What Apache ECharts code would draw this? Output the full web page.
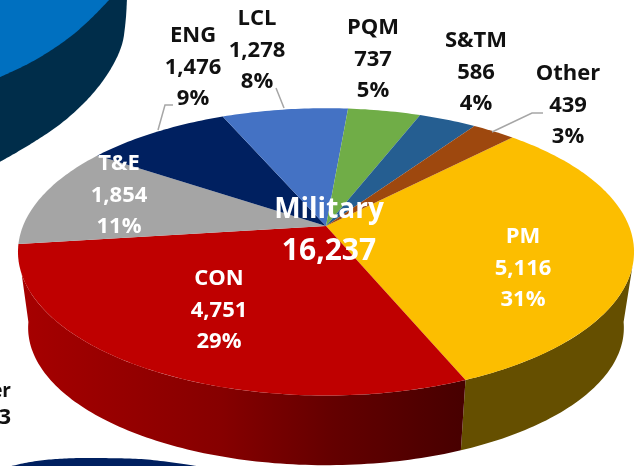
<!DOCTYPE html>
<html lang="en">
<head>
    <meta charset="UTF-8">
    <title>Military</title>
    <script src="https://cdn.jsdelivr.net/npm/echarts@6/dist/echarts.min.js"></script>
    <style>
        html, body { margin: 0; padding: 0; background: #fff; }
    </style>
</head>
<body>
<div id="main" style="width: 640px;height: 466px;"></div>
<script type="text/javascript">
    // data, clockwise from the back right
    var names = ['PM', 'CON', 'T&E', 'ENG', 'LCL', 'PQM', 'S&TM', 'Other'];
    var values = [5116, 4751, 1854, 1476, 1278, 737, 586, 439];
    var percents = ['31%', '29%', '11%', '9%', '8%', '5%', '4%', '3%'];
    var totalName = 'Military';
    var totalValue = 16237;

    var topColors = ['#fcbe00', '#bf0000', '#a5a5a5', '#002060', '#4472c4', '#70ad47', '#255e91', '#9e480e'];
    var labelColors = ['#fff', '#fff', '#fff', '#111', '#111', '#111', '#111', '#111'];
    // centre x and first line centre y of each label
    var labelPos = [[523, 237], [219, 279], [119, 164], [193, 36], [257, 19], [373, 28], [476, 41], [568, 74]];
    var leaders = [
        [[158, 130], [165, 105], [173, 105]],
        [[284, 108], [276, 88]],
        [[492, 132], [532, 113], [543, 113]]
    ];
    var labelFont = 'bold 22px "Open Sans"';
    var cutFont = 'bold 19px "Open Sans"';

    // perspective circle: the rim is drawn with these, angle in degrees from the back, clockwise
    var startAngle = 44;
    var topRim = {cx: 326, cy: 226, a: 303, b: 139, k: 0.18};
    var bottomRim = {cx: 326, cy: 303, a: 293, b: 133, k: 0.18};

    function rimPoint(rim, deg) {
        var t = deg * Math.PI / 180;
        var u = Math.sin(t), v = Math.cos(t);
        var d = 1 + rim.k * v;
        return [rim.cx + rim.a * u / d, rim.cy - rim.b * v / d];
    }
    function rimArc(rim, from, to) {
        var pts = [];
        var n = Math.max(2, Math.ceil(Math.abs(to - from)));
        for (var i = 0; i <= n; i++) {
            pts.push(rimPoint(rim, from + (to - from) * i / n));
        }
        return pts;
    }

    // round an open curve by corner cutting, end points stay
    function soften(pts) {
        for (var r = 0; r < 4; r++) {
            var out = [pts[0]];
            for (var i = 0; i < pts.length - 1; i++) {
                var p = pts[i], q = pts[i + 1];
                out.push([p[0] * 0.75 + q[0] * 0.25, p[1] * 0.75 + q[1] * 0.25]);
                out.push([p[0] * 0.25 + q[0] * 0.75, p[1] * 0.25 + q[1] * 0.75]);
            }
            out.push(pts[pts.length - 1]);
            pts = out;
        }
        return pts;
    }

    var sum = 0;
    for (var i = 0; i < values.length; i++) sum += values[i];
    var angles = [startAngle];
    for (var j = 0; j < values.length; j++) {
        angles.push(angles[j] + values[j] / sum * 360);
    }

    function fmt(n) {
        return String(n).replace(/\B(?=(\d{3})+$)/g, ',');
    }

    var chart = echarts.init(document.getElementById('main'));

    function renderFace(params, api) {
        var i = api.value(0);
        var pts = [[topRim.cx, topRim.cy]].concat(rimArc(topRim, angles[i], angles[i + 1]));
        return {
            type: 'polygon',
            shape: {points: pts},
            style: {fill: topColors[i]}
        };
    }

    // only the two front slices show a side wall
    function renderWall(params, api) {
        var i = api.value(0);
        var pts, fill;
        if (i === 0) {
            pts = rimArc(topRim, 106, angles[1]).concat(rimArc(bottomRim, angles[1], 98));
            fill = '#654f00';
        } else if (i === 1) {
            pts = rimArc(topRim, angles[1], 251).concat(rimArc(bottomRim, 262, angles[1]));
            fill = new echarts.graphic.LinearGradient(0, 0, 1, 0, [
                {offset: 0, color: '#a60000'},
                {offset: 0.45, color: '#860000'},
                {offset: 0.7, color: '#640000'},
                {offset: 1, color: '#470000'}
            ]);
        } else {
            return null;
        }
        return {type: 'polygon', shape: {points: pts}, style: {fill: fill}};
    }

    function renderLabel(params, api) {
        var i = api.value(0);
        var lines = [names[i], fmt(values[i]), percents[i]];
        var kids = [];
        for (var l = 0; l < lines.length; l++) {
            kids.push({
                type: 'text',
                style: {
                    x: labelPos[i][0],
                    y: labelPos[i][1] + l * 31.5,
                    text: lines[l],
                    fill: labelColors[i],
                    font: labelFont,
                    align: 'center',
                    verticalAlign: 'middle'
                }
            });
        }
        return {type: 'group', children: kids};
    }

    var seriesData = [];
    for (var s = 0; s < values.length; s++) seriesData.push([s, values[s]]);

    var leaderEls = [];
    for (var e = 0; e < leaders.length; e++) {
        leaderEls.push({
            type: 'polyline',
            z: 5,
            shape: {points: leaders[e]},
            style: {stroke: '#a6a6a6', lineWidth: 1.5, fill: null}
        });
    }

    // edges of the neighbouring pies, cut off by the crop
    var darkEdge = soften([[127, -2], [126, 20], [122, 50], [100, 87], [67, 120], [33, 143], [-2, 163]]);
    var blueEdge = soften([[111, -2], [90, 20], [67, 40], [33, 62], [-2, 78]]);
    var navyEdge = soften([[3, 468], [33, 461], [67, 458], [107, 458], [150, 459], [210, 468]]);

    chart.setOption({
        animation: false,
        backgroundColor: '#fff',
        graphic: {
            elements: [
                {type: 'polygon', z: 1, shape: {points: [[-2, -2]].concat(darkEdge)}, style: {fill: '#002d4a'}},
                {type: 'polygon', z: 2, shape: {points: [[-2, -2]].concat(blueEdge)}, style: {fill: '#0070c0'}},
                {type: 'polygon', z: 1, shape: {points: navyEdge}, style: {fill: '#002060'}},
                {type: 'text', z: 5, style: {x: 11, y: 392, text: 'er', fill: '#111', font: cutFont, align: 'right', verticalAlign: 'middle'}},
                {type: 'text', z: 5, style: {x: 11, y: 418, text: '3', fill: '#111', font: labelFont, align: 'right', verticalAlign: 'middle'}}
            ].concat(leaderEls)
        },
        series: [
            {type: 'custom', coordinateSystem: 'none', silent: true, z: 2, renderItem: renderWall, data: seriesData},
            {type: 'custom', coordinateSystem: 'none', silent: true, z: 3, renderItem: renderFace, data: seriesData},
            {type: 'custom', coordinateSystem: 'none', silent: true, z: 4, renderItem: renderLabel, data: seriesData},
            {
                type: 'custom',
                coordinateSystem: 'none',
                silent: true,
                z: 5,
                data: [[totalValue]],
                renderItem: function (params, api) {
                    return {
                        type: 'group',
                        children: [
                            {type: 'text', style: {x: 329, y: 210, text: totalName, fill: '#fff', font: 'bold 28px "Open Sans"', align: 'center', verticalAlign: 'middle'}},
                            {type: 'text', style: {x: 329, y: 251, text: fmt(api.value(0)), fill: '#fff', font: 'bold 30px "Open Sans"', align: 'center', verticalAlign: 'middle'}}
                        ]
                    };
                }
            }
        ]
    });
</script>
</body>
</html>
